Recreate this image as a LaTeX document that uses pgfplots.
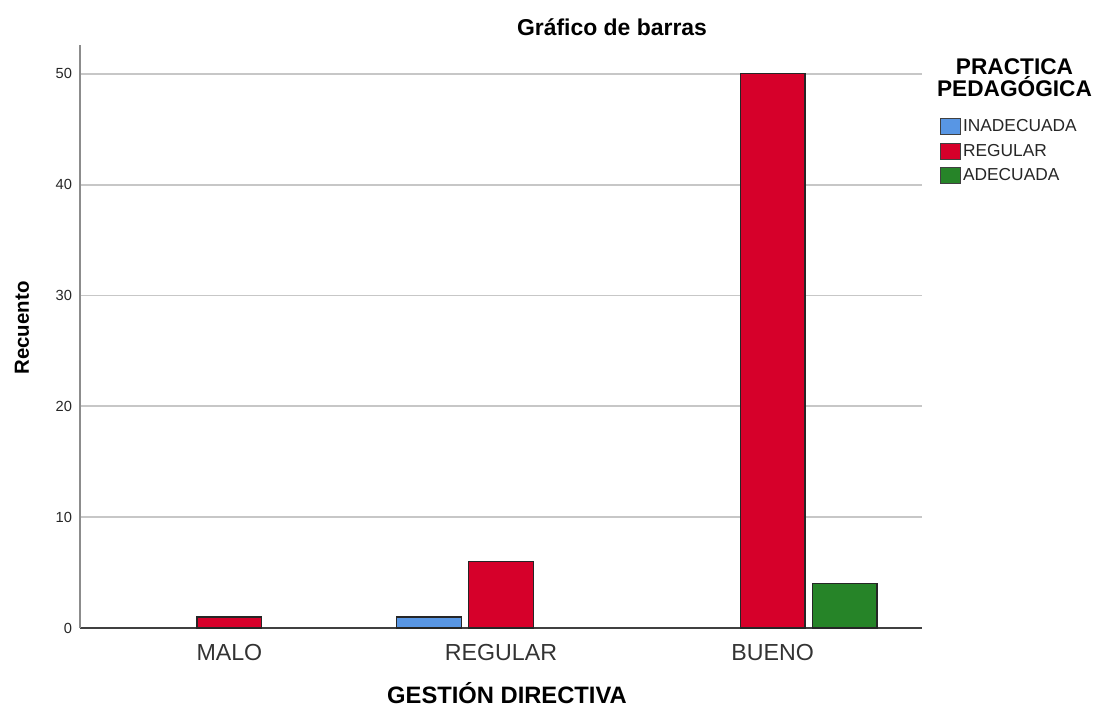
\documentclass[border=0pt]{standalone}
\usepackage{fontspec}
\setmainfont{Liberation Sans}
\usepackage{pgfplots}
\pgfplotsset{compat=1.18}
\definecolor{cblue}{RGB}{88,150,228}
\definecolor{cred}{RGB}{214,0,42}
\definecolor{cgreen}{RGB}{38,132,40}
\begin{document}
\begin{tikzpicture}[x=0.75pt,y=0.75pt]
\path[use as bounding box] (0,0) rectangle (1097,708);
\begin{axis}[
  at={(60pt,60pt)}, anchor=south west,
  scale only axis, width=631.5pt, height=437.25pt,
  xmin=-0.55, xmax=2.55, ymin=0, ymax=52.6,
  axis x line*=bottom, axis y line*=left,
  axis line style={-},
  x axis line style={draw=black!75, line width=0.9pt},
  y axis line style={draw=black!45, line width=0.9pt},
  xtick={0,1,2}, xticklabels={MALO,REGULAR,BUENO},
  ytick={0,10,20,30,40,50},
  major tick length=0pt,
  ymajorgrids, grid style={draw=black!22, line width=1.3pt},
  /pgf/number format/assume math mode=true,
  yticklabel style={font=\fontsize{11}{12}\selectfont, color=black!85, xshift=-2.5pt},
  xticklabel style={font=\fontsize{17.4}{19}\selectfont, color=black!80, yshift=-8.7pt},
  ybar, bar width=0.239,
  every axis plot/.append style={draw=black!85, line width=0.9pt},
  legend style={at={(1.0214,0.8748)}, anchor=north west, draw=none, fill=none,
    font=\fontsize{13}{14}\selectfont, row sep=5.8pt, inner sep=0pt,
    nodes={inner xsep=1.5pt, inner ysep=0pt, text=black!85}},
  legend cell align=left,
  legend image code/.code={\draw[#1, draw=black!75, line width=0.6pt] (0pt,-6pt) rectangle (15pt,6pt);},
]
\addplot[fill=cblue, bar shift=-0.265] coordinates {(1,1)};
\addplot[fill=cred, bar shift=0] coordinates {(0,1) (1,6) (2,50)};
\addplot[fill=cgreen, bar shift=0.265] coordinates {(2,4)};
\legend{INADECUADA,REGULAR,ADECUADA}
\end{axis}
\node[font=\bfseries\fontsize{17.2}{19}\selectfont] at (612,681) {Gráfico de barras};
\node[font=\bfseries\fontsize{17.8}{19}\selectfont] at (507,15) {GESTIÓN DIRECTIVA};
\node[font=\bfseries\fontsize{15.3}{17}\selectfont, rotate=90] at (22,380) {Recuento};
\node[font=\bfseries\fontsize{17}{16.5}\selectfont, align=center] at (1014.5,630) {PRACTICA\\PEDAGÓGICA};
\end{tikzpicture}
\end{document}
